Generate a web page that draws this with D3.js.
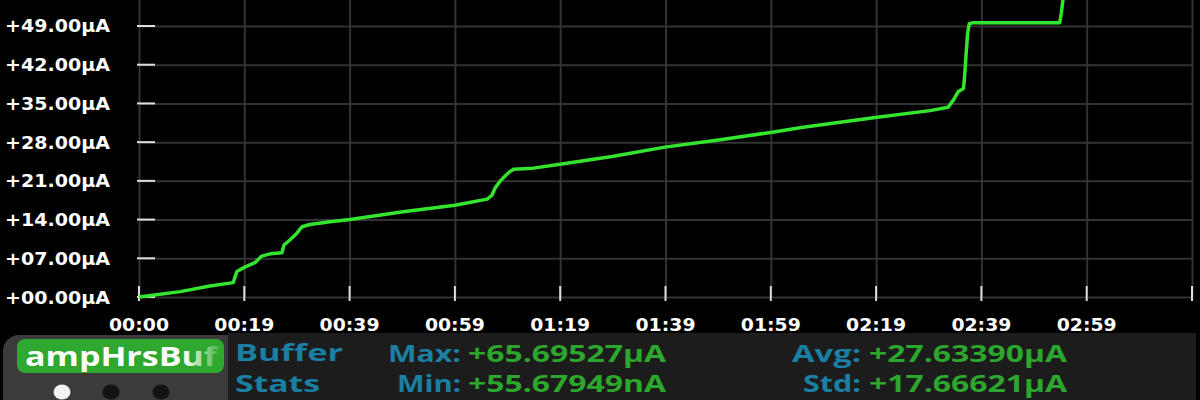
<!DOCTYPE html>
<html>
<head>
    <meta charset="utf-8">
    <title>ampHrsBuf</title>
    <script src="https://cdnjs.cloudflare.com/ajax/libs/d3/7.8.5/d3.min.js"></script>
    <style>
        body{ margin: 0; background: #000; }
        svg{ display: block; }
    </style>
</head>
<body>
<script>
    // seconds vs accumulated amp-hours (uA)
    const times  = [0, 7.8, 13.4, 17.8, 18.5, 20.0, 21.9, 23.2, 24.8, 27.0, 27.4, 28.5, 29.8, 30.8, 32.3, 36.1,
                    39.9, 49.9, 59.7, 65.8, 66.7, 67.3, 68.2, 68.8, 70.1, 70.8, 74.5, 79.6, 89.4, 99.4, 109.5,
                    119.7, 125.5, 139.5, 149.5, 152.9, 153.9, 154.8, 155.8, 156.0, 156.3, 156.6, 156.9, 157.7,
                    174.0, 174.3, 174.6, 175.2];
    const values = [0, 0.97, 2.0, 2.6, 4.6, 5.4, 6.2, 7.4, 7.8, 8.0, 9.4, 10.3, 11.5, 12.7, 13.1, 13.6,
                    14.0, 15.4, 16.6, 17.7, 18.4, 19.7, 20.9, 21.5, 22.7, 23.1, 23.3, 24.0, 25.4, 27.1, 28.4,
                    29.8, 30.7, 32.5, 33.7, 34.3, 35.6, 37.1, 37.7, 39.5, 43.8, 47.7, 49.4, 49.6,
                    49.6, 51.3, 53.7, 65.7];

    const yTicks = [0, 7, 14, 21, 28, 35, 42, 49];
    const yTickLabels = ['+00.00µA', '+07.00µA', '+14.00µA', '+21.00µA', '+28.00µA', '+35.00µA', '+42.00µA', '+49.00µA'];
    const xTicks = [0, 19.9, 39.8, 59.7, 79.6, 99.5, 119.4, 139.3, 159.2, 179.1, 199];
    const xTickLabels = ['00:00', '00:19', '00:39', '00:59', '01:19', '01:39', '01:59', '02:19', '02:39', '02:59', ''];

    const statLabels = ['Max:', 'Min:', 'Avg:', 'Std:'];
    const statValues = ['+65.69527µA', '+55.67949nA', '+27.63390µA', '+17.66621µA'];

    const W = 1200, H = 400;
    const left = 139, right = 1192, bottom = 297;

    const svg = d3.select('body').append('svg')
        .attr('width', W)
        .attr('height', H);

    svg.append('rect').attr('width', W).attr('height', H).attr('fill', '#000');

    const x = d3.scaleLinear().domain([0, 199]).range([left, right]);
    const y = d3.scaleLinear().domain([0, 53.7]).range([bottom, 0]);

    // grid
    const gridX = svg.append('g')
        .attr('transform', `translate(0,${bottom})`)
        .call(d3.axisBottom(x).tickValues(xTicks).tickSize(-bottom).tickFormat(''));
    const gridY = svg.append('g')
        .attr('transform', `translate(${left},0)`)
        .call(d3.axisLeft(y).tickValues(yTicks).tickSize(-(right - left)).tickFormat(''));
    [gridX, gridY].forEach(g => {
        g.select('.domain').remove();
        g.selectAll('line').attr('stroke', '#333').attr('stroke-width', 2);
    });

    // short white tick marks
    svg.append('g').selectAll('line').data(yTicks).enter()
        .append('line')
        .attr('x1', left - 2).attr('x2', left + 16)
        .attr('y1', d => y(d)).attr('y2', d => y(d))
        .attr('stroke', '#ddd').attr('stroke-width', 2);
    svg.append('g').selectAll('line').data(xTicks).enter()
        .append('line')
        .attr('x1', d => x(d)).attr('x2', d => x(d))
        .attr('y1', bottom - 11).attr('y2', bottom + 4)
        .attr('stroke', '#ddd').attr('stroke-width', 2);

    // tick labels
    svg.append('g').selectAll('text').data(yTicks).enter()
        .append('text')
        .attr('x', 5)
        .attr('y', d => y(d) + 6.5)
        .attr('textLength', 105)
        .attr('lengthAdjust', 'spacingAndGlyphs')
        .attr('fill', '#fff')
        .style('font', 'bold 18px "DejaVu Sans"')
        .text((d, i) => yTickLabels[i]);
    svg.append('g').selectAll('text').data(xTicks.filter((d, i) => xTickLabels[i])).enter()
        .append('text')
        .attr('x', d => x(d) - 30)
        .attr('y', 331)
        .attr('textLength', 60)
        .attr('lengthAdjust', 'spacingAndGlyphs')
        .attr('fill', '#fff')
        .style('font', 'bold 18.5px "DejaVu Sans"')
        .text((d, i) => xTickLabels[i]);

    // the trace
    svg.append('clipPath').attr('id', 'plot')
        .append('rect').attr('x', left - 3).attr('y', 0).attr('width', right - left + 3).attr('height', bottom + 3);
    const lineGen = d3.line()
        .x((d, i) => x(times[i]))
        .y(d => y(d));
    svg.append('path').datum(values)
        .attr('clip-path', 'url(#plot)')
        .attr('d', lineGen)
        .attr('fill', 'none')
        .attr('stroke', '#33e52e')
        .attr('stroke-width', 3.5)
        .attr('stroke-linejoin', 'round');

    // bottom stats panel
    svg.append('rect').attr('x', 228).attr('y', 333).attr('width', 968).attr('height', 67).attr('fill', '#1c1c1c');
    svg.append('rect').attr('x', 3).attr('y', 335).attr('width', 225).attr('height', 90).attr('rx', 16).attr('fill', '#3b3b3b');
    svg.append('rect').attr('x', 210).attr('y', 335).attr('width', 18).attr('height', 65).attr('fill', '#3b3b3b');

    const defs = svg.append('defs');
    const grad = defs.append('linearGradient').attr('id', 'fade')
        .attr('gradientUnits', 'userSpaceOnUse')
        .attr('x1', 184).attr('x2', 216).attr('y1', 0).attr('y2', 0);
    grad.append('stop').attr('offset', 0).attr('stop-color', '#fff');
    grad.append('stop').attr('offset', 1).attr('stop-color', '#5cbc5a');
    defs.append('clipPath').attr('id', 'btn')
        .append('rect').attr('x', 17).attr('y', 339).attr('width', 207).attr('height', 34).attr('rx', 8);

    svg.append('rect').attr('x', 17).attr('y', 339).attr('width', 207).attr('height', 34).attr('rx', 8).attr('fill', '#2ea82e');
    svg.append('text')
        .attr('clip-path', 'url(#btn)')
        .attr('x', 25).attr('y', 366)
        .attr('textLength', 192)
        .attr('lengthAdjust', 'spacingAndGlyphs')
        .attr('fill', 'url(#fade)')
        .style('font', 'bold 27px "Open Sans"')
        .text('ampHrsBuf');

    const dots = [62, 111, 161];
    svg.append('g').selectAll('ellipse').data(dots).enter()
        .append('ellipse')
        .attr('cx', d => d).attr('cy', 392)
        .attr('rx', 8.5).attr('ry', 7.5)
        .attr('fill', (d, i) => i === 0 ? '#f2f2f2' : '#121212');

    const teal = '#1b7fa3', green = '#2ca62c';
    const title = [['Buffer', 361, 108], ['Stats', 392, 85]];
    svg.append('g').selectAll('text').data(title).enter()
        .append('text')
        .attr('x', 235).attr('y', d => d[1])
        .attr('textLength', d => d[2])
        .attr('lengthAdjust', 'spacingAndGlyphs')
        .attr('fill', teal)
        .style('font', 'bold 24px "Open Sans"')
        .text(d => d[0]);

    // label right edges and value left edges, per stat
    const labelEnd = [461, 461, 861, 861];
    const labelWidth = [73, 64, 69, 58];
    const valueStart = [468, 468, 869, 869];
    const rowY = [362, 392, 362, 392];
    svg.append('g').selectAll('text').data(statLabels).enter()
        .append('text')
        .attr('x', (d, i) => labelEnd[i] - labelWidth[i]).attr('y', (d, i) => rowY[i])
        .attr('textLength', (d, i) => labelWidth[i])
        .attr('lengthAdjust', 'spacingAndGlyphs')
        .attr('fill', teal)
        .style('font', 'bold 23px "Open Sans"')
        .text(d => d);
    svg.append('g').selectAll('text').data(statValues).enter()
        .append('text')
        .attr('x', (d, i) => valueStart[i]).attr('y', (d, i) => rowY[i])
        .attr('textLength', 198)
        .attr('lengthAdjust', 'spacingAndGlyphs')
        .attr('fill', green)
        .style('font', 'bold 23px "Open Sans"')
        .text(d => d);
</script>
</body>
</html>
